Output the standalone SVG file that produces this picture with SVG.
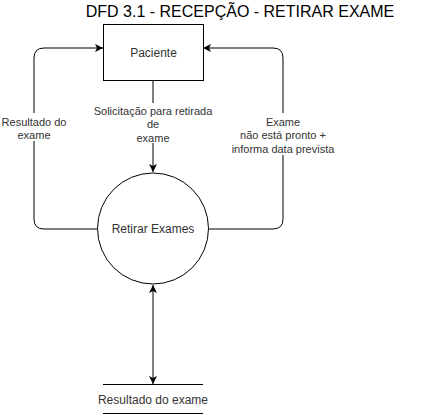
<svg xmlns="http://www.w3.org/2000/svg" width="421" height="415" viewBox="0 0 421 415">
<style>
.t{font-family:"Liberation Sans",Arial,sans-serif;fill:#333;text-anchor:middle}
.n{font-size:12px}
.l{font-size:11px}
.s{fill:#fff;stroke:#000;stroke-width:1}
.c{fill:none;stroke:#000;stroke-width:1}
</style>
<defs>
<marker id="a" viewBox="0 0 10 10" refX="10" refY="5" markerWidth="8" markerHeight="8" markerUnits="userSpaceOnUse" orient="auto-start-reverse">
<path d="M0,0 L10,5 L0,10 L2.5,5 Z" fill="#000"/>
</marker>
</defs>
<rect width="421" height="415" fill="#fff"/>
<text x="240" y="17" font-family="Liberation Sans,Arial,sans-serif" font-size="16" fill="#000" text-anchor="middle">DFD 3.1 - RECEPÇÃO - RETIRAR EXAME</text>
<g id="connectors">
<path class="c" d="M153,81 V172" marker-end="url(#a)"/>
<path class="c" d="M98,229 H44 Q34,229 34,219 V58 Q34,48 44,48 H103" marker-end="url(#a)"/>
<path class="c" d="M208,229 H273 Q283,229 283,219 V58 Q283,48 273,48 H203" marker-end="url(#a)"/>
<path class="c" d="M153,285 V384" marker-start="url(#a)" marker-end="url(#a)"/>
<rect x="88" y="103" width="130" height="40" fill="#fff"/>
<text class="t l" x="153" y="115">Solicitação para retirada</text>
<text class="t l" x="153" y="128">de</text>
<text class="t l" x="153" y="142">exame</text>
<rect x="2" y="113" width="64" height="28" fill="#fff"/>
<text class="t l" x="34" y="126">Resultado do</text>
<text class="t l" x="34" y="139">exame</text>
<rect x="230" y="113" width="106" height="42" fill="#fff"/>
<text class="t l" x="283" y="126">Exame</text>
<text class="t l" x="283" y="139">não está pronto +</text>
<text class="t l" x="283" y="153">informa data prevista</text>
</g>
<g id="paciente">
<rect class="s" x="103.5" y="24.5" width="100" height="56"/>
<text class="t n" x="153.5" y="56.5">Paciente</text>
</g>
<g id="retirar">
<circle class="s" cx="153" cy="228.5" r="55.5"/>
<text class="t n" x="153" y="233">Retirar Exames</text>
</g>
<g id="store">
<line class="c" x1="103" y1="384.5" x2="203" y2="384.5"/>
<line class="c" x1="103" y1="413.5" x2="203" y2="413.5"/>
<text class="t n" x="153" y="403.5">Resultado do exame</text>
</g>
</svg>
